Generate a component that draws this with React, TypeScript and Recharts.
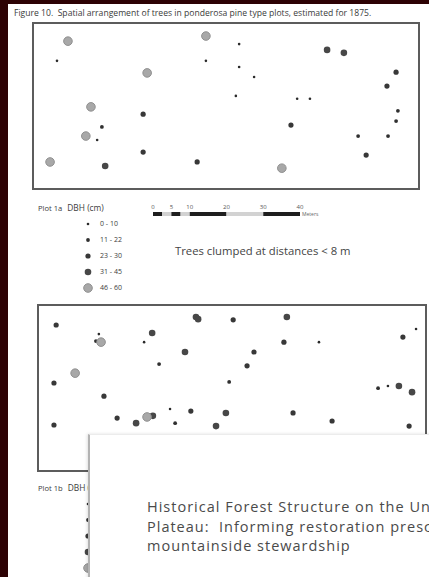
import React from 'react';
import { ScatterChart, Scatter, XAxis, YAxis, BarChart, Bar } from 'recharts';

interface Tree {
  x: number; // metres from left edge of plot
  y: number; // metres from top edge of plot
  dbh: number; // DBH class 1..5
}

const PX_PER_M = 3.65;

const dbhLabels = ['0 - 10', '11 - 22', '23 - 30', '31 - 45', '46 - 60'];
const dbhRadius = [1.3, 1.9, 2.6, 3.3, 4.3];
const dbhFill = ['#2a2a2a', '#303030', '#383838', '#474747', '#a8a8a8'];

const plot1aTrees: Tree[] = [
  { x: 9.3, y: 4.7, dbh: 5 }, { x: 47.1, y: 3.3, dbh: 5 }, { x: 31.0, y: 13.4, dbh: 5 },
  { x: 15.6, y: 22.7, dbh: 5 }, { x: 14.2, y: 30.7, dbh: 5 }, { x: 4.4, y: 37.8, dbh: 5 },
  { x: 67.9, y: 39.5, dbh: 5 },
  { x: 6.3, y: 10.1, dbh: 1 }, { x: 47.1, y: 10.1, dbh: 1 }, { x: 56.2, y: 5.5, dbh: 1 },
  { x: 56.2, y: 11.8, dbh: 1 }, { x: 60.3, y: 14.5, dbh: 1 }, { x: 55.3, y: 19.7, dbh: 1 },
  { x: 72.1, y: 20.5, dbh: 1 }, { x: 75.6, y: 20.5, dbh: 1 }, { x: 17.3, y: 31.8, dbh: 1 },
  { x: 18.6, y: 28.2, dbh: 2 }, { x: 97.0, y: 30.7, dbh: 2 }, { x: 88.8, y: 30.7, dbh: 2 },
  { x: 99.7, y: 23.8, dbh: 2 }, { x: 99.2, y: 26.6, dbh: 2 },
  { x: 99.2, y: 13.2, dbh: 3 }, { x: 96.7, y: 17.0, dbh: 3 }, { x: 70.4, y: 27.7, dbh: 3 },
  { x: 91.0, y: 35.9, dbh: 3 }, { x: 29.9, y: 35.1, dbh: 3 }, { x: 44.7, y: 37.8, dbh: 3 },
  { x: 29.9, y: 24.7, dbh: 3 },
  { x: 80.3, y: 7.1, dbh: 4 }, { x: 84.9, y: 7.9, dbh: 4 }, { x: 19.5, y: 38.9, dbh: 4 },
];

const plot1bTrees: Tree[] = [
  { x: 4.7, y: 5.2, dbh: 3 }, { x: 16.4, y: 7.7, dbh: 1 }, { x: 15.6, y: 9.6, dbh: 2 },
  { x: 17.0, y: 9.9, dbh: 5 }, { x: 31.0, y: 7.4, dbh: 4 }, { x: 28.8, y: 9.9, dbh: 1 },
  { x: 43.0, y: 3.0, dbh: 4 }, { x: 43.6, y: 3.6, dbh: 4 }, { x: 53.2, y: 3.8, dbh: 3 },
  { x: 67.9, y: 3.0, dbh: 4 }, { x: 67.1, y: 9.9, dbh: 3 }, { x: 76.7, y: 9.9, dbh: 1 },
  { x: 99.7, y: 8.5, dbh: 3 }, { x: 103.3, y: 6.3, dbh: 1 }, { x: 40.0, y: 12.6, dbh: 4 },
  { x: 58.9, y: 12.6, dbh: 3 }, { x: 9.9, y: 18.4, dbh: 5 }, { x: 32.9, y: 15.9, dbh: 2 },
  { x: 57.0, y: 16.4, dbh: 3 }, { x: 4.1, y: 21.1, dbh: 3 }, { x: 52.1, y: 20.8, dbh: 2 },
  { x: 92.9, y: 22.5, dbh: 2 }, { x: 95.6, y: 21.9, dbh: 1 }, { x: 98.6, y: 21.9, dbh: 4 },
  { x: 102.2, y: 23.6, dbh: 4 }, { x: 17.8, y: 24.7, dbh: 3 }, { x: 21.4, y: 30.7, dbh: 3 },
  { x: 26.6, y: 32.1, dbh: 4 }, { x: 29.6, y: 30.4, dbh: 5 }, { x: 31.2, y: 30.1, dbh: 4 },
  { x: 35.9, y: 28.2, dbh: 1 }, { x: 41.6, y: 28.8, dbh: 3 }, { x: 37.3, y: 32.1, dbh: 2 },
  { x: 51.2, y: 29.3, dbh: 4 }, { x: 48.5, y: 32.9, dbh: 4 }, { x: 69.6, y: 29.3, dbh: 3 },
  { x: 80.3, y: 31.5, dbh: 3 }, { x: 4.1, y: 32.6, dbh: 3 }, { x: 101.4, y: 32.9, dbh: 3 },
];

// scale bar: 0-40 m, alternating black / light segments
const scaleTicks = [0, 5, 10, 20, 30, 40];
const scaleSegments = [2.5, 2.5, 2.5, 2.5, 10, 10, 10];

const cardLines = [
  'Historical Forest Structure on the Uncompahgre',
  'Plateau:  Informing restoration prescriptions for',
  'mountainside stewardship',
];

const font = '"Open Sans", "Liberation Sans", sans-serif';

const TreeDot = ({ cx, cy, cls }: { cx?: number; cy?: number; cls: number }) => (
  <circle
    cx={cx}
    cy={cy}
    r={dbhRadius[cls]}
    fill={dbhFill[cls]}
    stroke={cls === 4 ? '#909090' : 'none'}
    strokeWidth={1}
  />
);

const TreePlot = ({ trees, left, top, width, height }: { trees: Tree[]; left: number; top: number; width: number; height: number }) => {
  const innerW = width - 4;
  const innerH = height - 4;
  return (
    <div style={{ position: 'absolute', left, top, width, height, border: '2px solid #5c5c5c', boxSizing: 'border-box', background: '#fff' }}>
      <ScatterChart width={innerW} height={innerH} margin={{ top: 0, right: 0, bottom: 0, left: 0 }}>
        <XAxis type="number" dataKey="x" domain={[0, innerW / PX_PER_M]} allowDataOverflow hide />
        <YAxis type="number" dataKey="y" domain={[0, innerH / PX_PER_M]} allowDataOverflow reversed hide />
        {dbhLabels.map((_, i) => (
          <Scatter
            key={i}
            data={trees.filter((t) => t.dbh === i + 1)}
            isAnimationActive={false}
            shape={(p: any) => <TreeDot cx={p.cx} cy={p.cy} cls={i} />}
          />
        ))}
      </ScatterChart>
    </div>
  );
};

const DbhLegend = ({ plot, left, top }: { plot: string; left: number; top: number }) => (
  <div style={{ position: 'absolute', left, top, fontFamily: font, color: '#3c3c3c' }}>
    <div style={{ position: 'absolute', left: 0, top: -6, height: 12, lineHeight: '12px', fontSize: 7.6, whiteSpace: 'nowrap' }}>
      Plot {plot}
      <span style={{ marginLeft: 5, fontSize: 8.4 }}>DBH (cm)</span>
    </div>
    {dbhLabels.map((label, i) => (
      <div key={label} style={{ position: 'absolute', left: 45, top: 16 * (i + 1) - 5, height: 10, lineHeight: '10px', fontSize: 7, whiteSpace: 'nowrap', display: 'flex', alignItems: 'center' }}>
        <svg width={10} height={10} style={{ display: 'block' }}>
          <TreeDot cx={5} cy={5} cls={i} />
        </svg>
        <span style={{ marginLeft: 7 }}>{label}</span>
      </div>
    ))}
  </div>
);

const scaleRow = [Object.fromEntries(scaleSegments.map((v, i) => [`s${i}`, v]).concat([['name', 'scale']]))];

export default function App() {
  return (
    <div style={{ position: 'absolute', left: 0, top: 0, width: 429, height: 577, overflow: 'hidden', background: '#2d0204' }}>
      <div style={{ position: 'absolute', left: 8, top: 4, right: 0, bottom: 0, background: '#fff' }}>
        <div style={{ position: 'absolute', left: 6, top: 3, height: 12, lineHeight: '12px', fontFamily: font, fontSize: 8.6, color: '#3a3a3a', whiteSpace: 'pre' }}>
          Figure 10.  Spatial arrangement of trees in ponderosa pine type plots, estimated for 1875.
        </div>
      </div>

      <TreePlot trees={plot1aTrees} left={32} top={22} width={388} height={168} />
      <DbhLegend plot="1a" left={38} top={208} />

      <div style={{ position: 'absolute', left: 149, top: 198 }}>
        <BarChart layout="vertical" width={155} height={20} data={scaleRow} margin={{ top: 0, right: 4, bottom: 0, left: 4 }}>
          <XAxis
            type="number"
            orientation="top"
            domain={[0, 40]}
            ticks={scaleTicks}
            interval={0}
            height={12}
            axisLine={false}
            tickLine={false}
            tickSize={0}
            tickMargin={1}
            tick={{ fontSize: 6, fill: '#555', fontFamily: font }}
          />
          <YAxis type="category" dataKey="name" hide />
          {scaleSegments.map((_, i) => (
            <Bar key={i} dataKey={`s${i}`} stackId="bar" barSize={4} fill={i % 2 === 0 ? '#1e1e1e' : '#d2d2d2'} isAnimationActive={false} />
          ))}
        </BarChart>
      </div>
      <div style={{ position: 'absolute', left: 302, top: 210, height: 8, lineHeight: '8px', fontFamily: font, fontSize: 5, color: '#666' }}>Meters</div>

      <div style={{ position: 'absolute', left: 175, top: 243, height: 16, lineHeight: '16px', fontFamily: font, fontSize: 11.3, color: '#444', whiteSpace: 'nowrap' }}>
        Trees clumped at distances &lt; 8 m
      </div>

      <TreePlot trees={plot1bTrees} left={37} top={304} width={390} height={168} />
      <DbhLegend plot="1b" left={38} top={488} />

      <div style={{ position: 'absolute', left: 88, top: 434, width: 400, height: 200, background: '#fff', borderLeft: '2px solid #b3b3b3', borderTop: '1px solid #ececec', boxShadow: '-1px 0 3px rgba(0,0,0,0.12)' }}>
        {cardLines.map((line, i) => (
          <div key={i} style={{ position: 'absolute', left: 57, top: 62 + 19.5 * i, height: 19.5, lineHeight: '19.5px', fontFamily: font, fontSize: 14.5, letterSpacing: 1, color: '#4a4a4a', whiteSpace: 'pre' }}>
            {line}
          </div>
        ))}
      </div>
    </div>
  );
}
